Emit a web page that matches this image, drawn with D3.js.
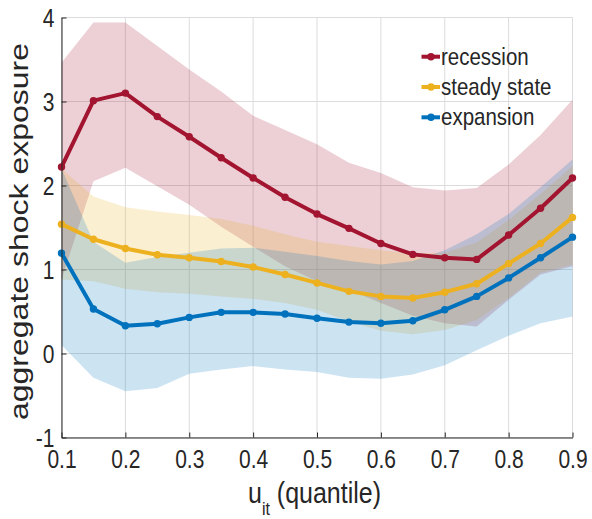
<!DOCTYPE html>
<html>
<head>
<meta charset="utf-8">
<script src="https://cdn.jsdelivr.net/npm/d3@7"></script>
<style>
  html, body { margin: 0; padding: 0; background: #fff; }
  svg { display: block; }
  text { font-family: "Liberation Sans", Arial, Helvetica, sans-serif; fill: #262626; }
</style>
</head>
<body>
<svg id="chart" width="592" height="519"></svg>
<script>
// ---- data ----
const quantiles = [0.1, 0.15, 0.2, 0.25, 0.3, 0.35, 0.4, 0.45, 0.5, 0.55, 0.6, 0.65, 0.7, 0.75, 0.8, 0.85, 0.9];

const recessionMean  = [2.22, 3.01, 3.10, 2.82, 2.58, 2.33, 2.09, 1.86, 1.66, 1.49, 1.31, 1.18, 1.14, 1.12, 1.41, 1.73, 2.09];
const recessionUpper = [3.46, 3.94, 3.94, 3.66, 3.38, 3.12, 2.83, 2.66, 2.49, 2.27, 2.15, 1.98, 1.94, 1.97, 2.25, 2.60, 3.02];
const recessionLower = [0.88, 2.05, 2.21, 1.99, 1.77, 1.51, 1.27, 1.04, 0.86, 0.76, 0.60, 0.45, 0.36, 0.32, 0.64, 0.94, 1.04];

const steadyMean  = [1.54, 1.36, 1.25, 1.175, 1.14, 1.095, 1.03, 0.94, 0.84, 0.74, 0.68, 0.66, 0.73, 0.83, 1.07, 1.31, 1.62];
const steadyUpper = [2.20, 1.87, 1.74, 1.69, 1.65, 1.60, 1.52, 1.42, 1.33, 1.28, 1.23, 1.19, 1.20, 1.32, 1.59, 1.90, 2.23];
const steadyLower = [0.88, 0.86, 0.77, 0.73, 0.71, 0.68, 0.65, 0.60, 0.52, 0.38, 0.27, 0.23, 0.28, 0.40, 0.66, 0.96, 1.06];

const expansionMean  = [1.195, 0.53, 0.33, 0.355, 0.43, 0.49, 0.49, 0.47, 0.42, 0.374, 0.36, 0.39, 0.52, 0.68, 0.90, 1.14, 1.385];
const expansionUpper = [2.20, 1.33, 1.08, 1.15, 1.20, 1.25, 1.26, 1.21, 1.16, 1.10, 1.06, 1.10, 1.23, 1.42, 1.66, 1.98, 2.31];
const expansionLower = [0.10, -0.29, -0.45, -0.41, -0.24, -0.19, -0.15, -0.19, -0.22, -0.29, -0.30, -0.25, -0.14, 0.04, 0.21, 0.36, 0.44];

const seriesNames = ["recession", "steady state", "expansion"];
const seriesColors = ["#A2142F", "#EDB120", "#0072BD"];

const xTickValues = [0.1, 0.2, 0.3, 0.4, 0.5, 0.6, 0.7, 0.8, 0.9];
const xTickLabels = ["0.1", "0.2", "0.3", "0.4", "0.5", "0.6", "0.7", "0.8", "0.9"];
const yTickValues = [-1, 0, 1, 2, 3, 4];
const yTickLabels = ["-1", "0", "1", "2", "3", "4"];

const yLabel = "aggregate shock exposure";

// ---- layout ----
const svg = d3.select("#chart");
const x = d3.scaleLinear().domain([0.1, 0.9]).range([61.5, 572.5]);
const y = d3.scaleLinear().domain([-1, 4]).range([437.5, 17.5]);

const series = [
  { mean: recessionMean, upper: recessionUpper, lower: recessionLower },
  { mean: steadyMean, upper: steadyUpper, lower: steadyLower },
  { mean: expansionMean, upper: expansionUpper, lower: expansionLower }
];

// grid
const grid = svg.append("g");
grid.selectAll("line.vx").data(xTickValues).join("line")
  .attr("x1", d => x(d)).attr("x2", d => x(d))
  .attr("y1", y(4)).attr("y2", y(-1))
  .attr("stroke", "#dcdcdc").attr("stroke-width", 1);
grid.selectAll("line.hy").data(yTickValues).join("line")
  .attr("x1", x(0.1)).attr("x2", x(0.9))
  .attr("y1", d => y(d)).attr("y2", d => y(d))
  .attr("stroke", "#dcdcdc").attr("stroke-width", 1);

// bands
series.forEach((s, k) => {
  const area = d3.area()
    .x((d, i) => x(quantiles[i]))
    .y0((d, i) => y(s.lower[i]))
    .y1((d, i) => y(s.upper[i]));
  svg.append("path").datum(s.mean)
    .attr("d", area)
    .attr("fill", seriesColors[k])
    .attr("fill-opacity", 0.2)
    .attr("stroke", "none");
});

// lines + markers
series.forEach((s, k) => {
  const line = d3.line()
    .x((d, i) => x(quantiles[i]))
    .y(d => y(d));
  svg.append("path").datum(s.mean)
    .attr("d", line)
    .attr("fill", "none")
    .attr("stroke", seriesColors[k])
    .attr("stroke-width", 4)
    .attr("stroke-linejoin", "round");
  svg.append("g").selectAll("circle").data(s.mean).join("circle")
    .attr("cx", (d, i) => x(quantiles[i]))
    .attr("cy", d => y(d))
    .attr("r", 3.7)
    .attr("fill", seriesColors[k]);
});

// axes
const xAxis = d3.axisBottom(x)
  .tickValues(xTickValues)
  .tickFormat((d, i) => xTickLabels[i])
  .tickSizeInner(-5).tickSizeOuter(0);
const gx = svg.append("g").attr("transform", `translate(0,${y(-1)})`).call(xAxis);
gx.select(".domain").attr("stroke", "#262626").attr("stroke-width", 1);
gx.selectAll(".tick line").attr("stroke", "#262626");
gx.selectAll(".tick text")
  .attr("y", 0).attr("dy", 0)
  .attr("transform", "translate(0,30.5) scale(1,1.2)")
  .attr("font-size", 21)
  .attr("fill", "#262626");

const yAxis = d3.axisLeft(y)
  .tickValues(yTickValues)
  .tickFormat((d, i) => yTickLabels[i])
  .tickSizeInner(-5).tickSizeOuter(0);
const gy = svg.append("g").attr("transform", `translate(${x(0.1)},0)`).call(yAxis);
gy.select(".domain").attr("stroke", "#262626").attr("stroke-width", 1);
gy.selectAll(".tick line").attr("stroke", "#262626");
gy.selectAll(".tick text")
  .attr("x", 0).attr("dy", 0)
  .attr("text-anchor", "end")
  .attr("transform", "translate(-7,9) scale(1,1.2)")
  .attr("font-size", 21)
  .attr("fill", "#262626");
svg.selectAll(".tick text").style("font-family", "'Liberation Sans', Arial, sans-serif");

// y label
svg.append("g")
  .attr("transform", "translate(28,231.5) scale(1,1.28) rotate(-90)")
  .append("text")
  .attr("text-anchor", "middle")
  .attr("font-size", 25)
  .text(yLabel);

// x label
const xl = svg.append("g")
  .attr("transform", "translate(248,503) scale(1,1.16)")
  .append("text")
  .attr("font-size", 25);
xl.append("tspan").text("u");
xl.append("tspan").attr("font-size", 16).attr("dy", 10).text("it");
xl.append("tspan").attr("dy", -10).text(" (quantile)");

// legend
const legend = svg.append("g");
seriesNames.forEach((name, k) => {
  const ly = 56.7 + k * 30.3;
  legend.append("line")
    .attr("x1", 421.5).attr("x2", 440)
    .attr("y1", ly).attr("y2", ly)
    .attr("stroke", seriesColors[k]).attr("stroke-width", 4);
  legend.append("circle")
    .attr("cx", 431).attr("cy", ly).attr("r", 3.7)
    .attr("fill", seriesColors[k]);
  legend.append("g")
    .attr("transform", `translate(441,${ly + 8}) scale(1,1.15)`)
    .append("text")
    .attr("font-size", 20.5)
    .text(name);
});
</script>
</body>
</html>
